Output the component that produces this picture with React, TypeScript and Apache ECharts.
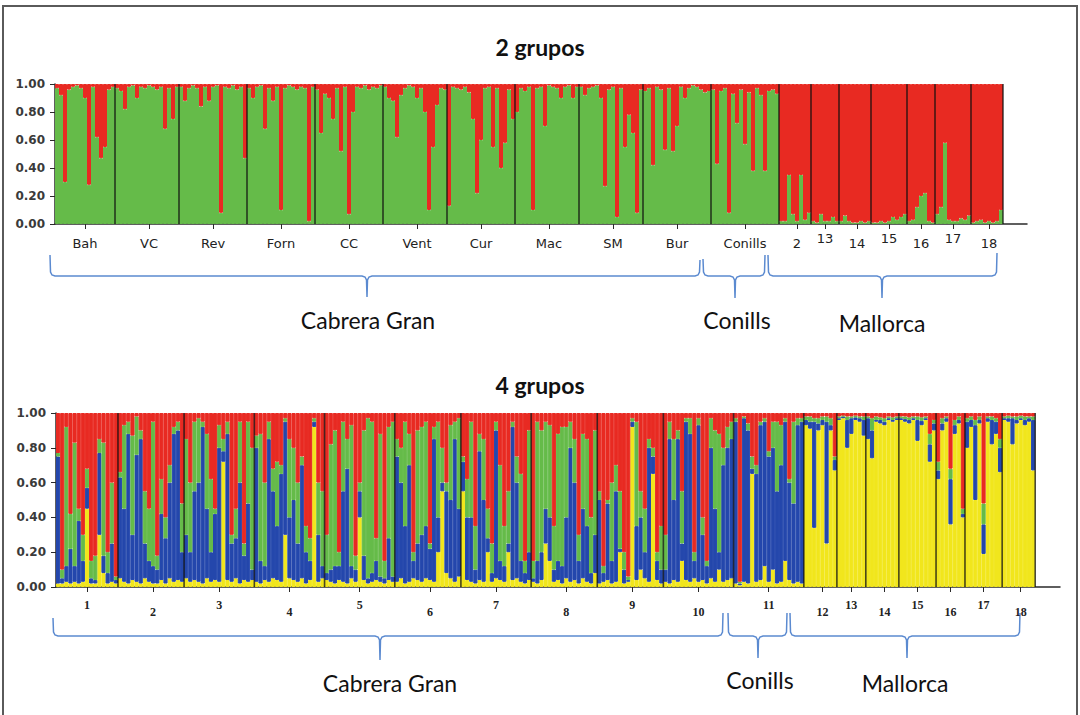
import React, { useEffect, useRef } from "react";
import * as echarts from "echarts";

// ---------- population labels ----------
const k2PopNames = ["Bah", "VC", "Rev", "Forn", "CC", "Vent", "Cur", "Mac", "SM", "Bur", "Conills", "2", "13", "14", "15", "16", "17", "18"];
const k2RaisedLabels = ["13", "15", "17"];
const k4PopNames = ["1", "2", "3", "4", "5", "6", "7", "8", "9", "10", "11", "12", "13", "14", "15", "16", "17", "18"];
const yTickValues = [0, 0.2, 0.4, 0.6, 0.8, 1.0];

// ---------- K = 2 : green membership of each individual (red = rest) ----------
const k2Bah = [0.97, 0.92, 0.30, 0.96, 0.98, 0.99, 0.97, 0.90, 0.28, 0.98, 0.62, 0.47, 0.55, 0.96, 0.98];
const k2VC = [0.97, 0.95, 0.82, 0.98, 0.99, 0.90, 0.98, 0.97, 0.99, 0.98, 0.96, 0.98, 0.68, 0.97, 0.75, 0.98];
const k2Rev = [0.98, 0.88, 0.97, 0.99, 0.97, 0.84, 0.98, 0.88, 0.98, 0.99, 0.08, 0.98, 0.97, 0.99, 0.96, 0.98, 0.47];
const k2Forn = [0.97, 0.90, 0.98, 0.99, 0.68, 0.97, 0.88, 0.98, 0.10, 0.97, 0.99, 0.98, 0.96, 0.98, 0.97, 0.02, 0.98];
const k2CC = [0.96, 0.65, 0.93, 0.90, 0.75, 0.97, 0.52, 0.98, 0.07, 0.80, 0.98, 0.97, 0.99, 0.96, 0.98, 0.97, 0.99];
const k2Vent = [0.98, 0.90, 0.88, 0.62, 0.92, 0.97, 0.99, 0.98, 0.90, 0.97, 0.80, 0.10, 0.55, 0.85, 0.97, 0.96];
const k2Cur = [0.13, 0.98, 0.97, 0.96, 0.98, 0.94, 0.75, 0.22, 0.60, 0.97, 0.98, 0.55, 0.97, 0.40, 0.58, 0.96, 0.75];
const k2Mac = [0.80, 0.97, 0.95, 0.98, 0.10, 0.97, 0.98, 0.70, 0.99, 0.98, 0.97, 0.90, 0.98, 0.99, 0.90, 0.98];
const k2SM = [0.98, 0.92, 0.97, 0.98, 0.99, 0.90, 0.27, 0.96, 0.98, 0.05, 0.97, 0.55, 0.78, 0.65, 0.08, 0.96];
const k2Bur = [0.95, 0.97, 0.42, 0.98, 0.96, 0.53, 0.97, 0.52, 0.70, 0.98, 0.90, 0.97, 0.99, 0.98, 0.96, 0.94, 0.95];
const k2Conills = [0.96, 0.43, 0.95, 0.97, 0.08, 0.93, 0.72, 0.96, 0.57, 0.94, 0.38, 0.97, 0.92, 0.38, 0.95, 0.96, 0.93];
const k2M12 = [0.02, 0.02, 0.35, 0.07, 0.02, 0.35, 0.03, 0.08];
const k2M13 = [0.02, 0.01, 0.07, 0.02, 0.02, 0.05, 0.02];
const k2M14 = [0.02, 0.06, 0.02, 0.01, 0.01, 0.02, 0.01, 0.02];
const k2M15 = [0.01, 0.01, 0.02, 0.01, 0.02, 0.05, 0.03, 0.05, 0.07];
const k2M16 = [0.02, 0.03, 0.12, 0.20, 0.22, 0.02, 0.01];
const k2M17 = [0.07, 0.12, 0.58, 0.03, 0.02, 0.02, 0.04, 0.03, 0.06];
const k2M18 = [0.01, 0.02, 0.03, 0.01, 0.02, 0.01, 0.02, 0.10];
const k2Groups = [k2Bah, k2VC, k2Rev, k2Forn, k2CC, k2Vent, k2Cur, k2Mac, k2SM, k2Bur, k2Conills, k2M12, k2M13, k2M14, k2M15, k2M16, k2M17, k2M18];

// ---------- K = 4 : cumulative tops [yellow, blue, green] (red = rest up to 1) ----------
const k4P1 = [[0.02, 0.75, 0.77], [0.02, 0.05, 0.10], [0.03, 0.12, 0.92], [0.02, 0.22, 0.42], [0.03, 0.12, 0.83], [0.02, 0.38, 0.45], [0.03, 0.15, 0.30], [0.45, 0.57, 0.68], [0.02, 0.05, 0.15], [0.02, 0.04, 0.18], [0.30, 0.77, 0.85], [0.08, 0.18, 0.83], [0.02, 0.08, 0.20], [0.03, 0.25, 0.60], [0.02, 0.04, 0.06]];
const k4P2 = [[0.05, 0.63, 0.66], [0.03, 0.45, 0.93], [0.02, 0.88, 0.95], [0.04, 0.30, 0.87], [0.03, 0.76, 0.98], [0.02, 0.85, 0.90], [0.05, 0.25, 0.55], [0.03, 0.15, 0.45], [0.02, 0.12, 0.95], [0.02, 0.10, 0.18], [0.04, 0.42, 0.62], [0.02, 0.28, 0.40], [0.05, 0.60, 0.70], [0.03, 0.88, 0.92], [0.04, 0.90, 0.95], [0.03, 0.20, 0.48]];
const k4P3 = [[0.05, 0.30, 0.85], [0.03, 0.20, 0.60], [0.04, 0.55, 0.95], [0.03, 0.60, 0.97], [0.02, 0.92, 0.95], [0.05, 0.45, 0.88], [0.03, 0.20, 0.62], [0.04, 0.42, 0.45], [0.03, 0.80, 0.93], [0.72, 0.78, 0.85], [0.04, 0.88, 0.95], [0.03, 0.25, 0.30], [0.05, 0.28, 0.45], [0.02, 0.60, 0.95], [0.04, 0.18, 0.25], [0.03, 0.48, 0.95], [0.04, 0.10, 0.80]];
const k4P4 = [[0.03, 0.80, 0.87], [0.02, 0.15, 0.88], [0.04, 0.12, 0.60], [0.03, 0.85, 0.95], [0.05, 0.55, 0.68], [0.04, 0.35, 0.72], [0.03, 0.65, 0.70], [0.30, 0.95, 0.97], [0.05, 0.40, 0.85], [0.04, 0.50, 0.80], [0.03, 0.25, 0.60], [0.05, 0.70, 0.75], [0.02, 0.20, 0.35], [0.04, 0.15, 0.28], [0.92, 0.95, 0.97], [0.03, 0.30, 0.60], [0.05, 0.12, 0.55]];
const k4P5 = [[0.04, 0.08, 0.30], [0.03, 0.10, 0.82], [0.02, 0.12, 0.90], [0.04, 0.12, 0.20], [0.03, 0.55, 0.95], [0.02, 0.68, 0.85], [0.05, 0.12, 0.93], [0.03, 0.10, 0.18], [0.40, 0.55, 0.60], [0.04, 0.18, 0.90], [0.02, 0.05, 0.97], [0.03, 0.08, 0.95], [0.04, 0.15, 0.28], [0.03, 0.06, 0.88], [0.02, 0.05, 0.15], [0.04, 0.28, 0.92], [0.03, 0.06, 0.95]];
const k4P6 = [[0.03, 0.75, 0.85], [0.05, 0.60, 0.80], [0.02, 0.35, 0.95], [0.03, 0.70, 0.88], [0.05, 0.15, 0.20], [0.04, 0.25, 0.90], [0.03, 0.30, 0.92], [0.05, 0.35, 0.95], [0.04, 0.22, 0.25], [0.03, 0.85, 0.92], [0.20, 0.40, 0.95], [0.55, 0.60, 0.80], [0.08, 0.55, 0.60], [0.05, 0.50, 0.93], [0.03, 0.85, 0.95], [0.06, 0.45, 0.97]];
const k4P7 = [[0.55, 0.72, 0.75], [0.04, 0.40, 0.62], [0.03, 0.40, 0.95], [0.02, 0.10, 0.35], [0.04, 0.78, 0.88], [0.03, 0.50, 0.85], [0.20, 0.28, 0.45], [0.03, 0.08, 0.25], [0.05, 0.90, 0.95], [0.04, 0.15, 0.70], [0.03, 0.12, 0.35], [0.20, 0.25, 0.55], [0.04, 0.92, 0.95], [0.05, 0.60, 0.75], [0.03, 0.15, 0.65], [0.02, 0.08, 0.15], [0.04, 0.20, 0.90]];
const k4P8 = [[0.03, 0.05, 0.15], [0.02, 0.15, 0.95], [0.04, 0.20, 0.90], [0.25, 0.45, 0.95], [0.15, 0.40, 0.93], [0.03, 0.10, 0.35], [0.04, 0.15, 0.88], [0.02, 0.12, 0.92], [0.05, 0.40, 0.92], [0.03, 0.80, 0.95], [0.04, 0.60, 0.85], [0.02, 0.15, 0.30], [0.05, 0.45, 0.88], [0.03, 0.35, 0.85], [0.02, 0.08, 0.40], [0.08, 0.30, 0.90]];
const k4P9 = [[0.02, 0.50, 0.55], [0.03, 0.08, 0.12], [0.04, 0.48, 0.50], [0.02, 0.15, 0.60], [0.03, 0.55, 0.70], [0.20, 0.22, 0.55], [0.02, 0.10, 0.20], [0.03, 0.04, 0.06], [0.92, 0.95, 0.97], [0.04, 0.35, 0.95], [0.10, 0.40, 0.55], [0.05, 0.20, 0.45], [0.03, 0.80, 0.85], [0.65, 0.75, 0.80], [0.04, 0.15, 0.20], [0.02, 0.10, 0.35]];
const k4P10 = [[0.03, 0.10, 0.30], [0.02, 0.85, 0.95], [0.04, 0.50, 0.85], [0.03, 0.85, 0.90], [0.15, 0.25, 0.55], [0.04, 0.95, 0.97], [0.03, 0.88, 0.97], [0.05, 0.15, 0.20], [0.03, 0.93, 0.97], [0.04, 0.30, 0.40], [0.02, 0.12, 0.15], [0.05, 0.80, 0.97], [0.03, 0.45, 0.90], [0.10, 0.20, 0.88], [0.03, 0.70, 0.80], [0.04, 0.80, 0.92], [0.05, 0.85, 0.95]];
const k4P11 = [[0.02, 0.95, 0.97], [0.01, 0.02, 0.03], [0.03, 0.97, 0.98], [0.02, 0.90, 0.94], [0.65, 0.68, 0.75], [0.03, 0.65, 0.70], [0.04, 0.93, 0.95], [0.12, 0.95, 0.97], [0.03, 0.75, 0.78], [0.10, 0.80, 0.95], [0.02, 0.55, 0.95], [0.03, 0.70, 0.93], [0.15, 0.95, 0.97], [0.04, 0.60, 0.62], [0.02, 0.48, 0.95], [0.03, 0.93, 0.97], [0.02, 0.95, 0.97]];
const k4P12 = [[0.93, 0.96, 0.98], [0.91, 0.95, 0.98], [0.34, 0.95, 0.97], [0.90, 0.94, 0.97], [0.93, 0.96, 0.98], [0.25, 0.95, 0.98], [0.90, 0.93, 0.97], [0.67, 0.73, 0.75]];
const k4P13 = [[0.96, 0.97, 0.98], [0.97, 0.98, 0.985], [0.80, 0.96, 0.98], [0.88, 0.97, 0.98], [0.96, 0.975, 0.985], [0.95, 0.97, 0.98], [0.87, 0.96, 0.98]];
const k4P14 = [[0.85, 0.97, 0.98], [0.74, 0.90, 0.97], [0.95, 0.96, 0.98], [0.94, 0.96, 0.975], [0.93, 0.95, 0.97], [0.96, 0.97, 0.98], [0.95, 0.96, 0.975], [0.96, 0.97, 0.98]];
const k4P15 = [[0.96, 0.97, 0.98], [0.95, 0.965, 0.98], [0.94, 0.96, 0.975], [0.96, 0.97, 0.98], [0.84, 0.96, 0.98], [0.93, 0.955, 0.975], [0.96, 0.97, 0.98], [0.72, 0.82, 0.88], [0.90, 0.94, 0.96]];
const k4P16 = [[0.62, 0.67, 0.72], [0.90, 0.94, 0.97], [0.95, 0.97, 0.98], [0.36, 0.62, 0.68], [0.88, 0.93, 0.96], [0.94, 0.96, 0.98], [0.40, 0.42, 0.45]];
const k4P17 = [[0.80, 0.95, 0.97], [0.92, 0.96, 0.98], [0.50, 0.93, 0.96], [0.94, 0.96, 0.98], [0.19, 0.36, 0.48], [0.95, 0.97, 0.98], [0.82, 0.96, 0.98], [0.88, 0.95, 0.97], [0.66, 0.80, 0.85]];
const k4P18 = [[0.96, 0.97, 0.98], [0.95, 0.97, 0.985], [0.82, 0.97, 0.98], [0.94, 0.96, 0.98], [0.96, 0.97, 0.985], [0.93, 0.96, 0.98], [0.95, 0.97, 0.98], [0.67, 0.96, 0.98]];
const k4Groups = [k4P1, k4P2, k4P3, k4P4, k4P5, k4P6, k4P7, k4P8, k4P9, k4P10, k4P11, k4P12, k4P13, k4P14, k4P15, k4P16, k4P17, k4P18];

const PAD = 6; // empty categories after the last population (axis overhang)

const RED = "#e82a22";
const GREEN = "#65bb49";
const BLUE = "#2447ac";
const YELLOW = "#f1e61c";
const BRACE = "#5b8ad0";

function layout(groups: any[][], prefix: string) {
  const cats: string[] = [];
  const centers: number[] = [];
  const bounds: number[] = [];
  groups.forEach((g, p) => {
    if (p > 0) bounds.push(cats.length);
    centers.push(cats.length + Math.floor(g.length / 2));
    g.forEach((_, i) => cats.push(`${prefix}${p}_${i}`));
  });
  bounds.push(cats.length);
  for (let j = 0; j < PAD; j++) cats.push(`${prefix}pad${j}`);
  return { cats, centers, bounds };
}

function bracePoints(xl: number, xr: number, xm: number, yl: number, yr: number, yLine: number, yTip: number) {
  return [
    [xl, yl], [xl + 0.5, yLine - 4], [xl + 2, yLine - 1], [xl + 5, yLine],
    [xm - 5, yLine], [xm - 2, yLine + 1], [xm - 0.5, yLine + 4], [xm, yTip],
    [xm + 0.5, yLine + 4], [xm + 2, yLine + 1], [xm + 5, yLine],
    [xr - 5, yLine], [xr - 2, yLine - 1], [xr - 0.5, yLine - 4], [xr, yr],
  ];
}

export default function App() {
  const ref = useRef<HTMLDivElement>(null);

  useEffect(() => {
    if (!ref.current) return;
    const chart = echarts.init(ref.current, null, { renderer: "svg" });

    const L2 = layout(k2Groups, "a");
    const L4 = layout(k4Groups, "b");
    const pad = new Array(PAD).fill(null);

    const k2GreenData = ([] as (number | null)[]).concat(...k2Groups, pad);
    const k2RedData = ([] as (number | null)[]).concat(...k2Groups.map((g) => g.map((v) => +(1 - v).toFixed(3))), pad);

    const flat4 = ([] as number[][]).concat(...k4Groups);
    const k4Yellow = flat4.map((t) => t[0]).concat(pad);
    const k4Blue = flat4.map((t) => +(t[1] - t[0]).toFixed(3)).concat(pad);
    const k4Green = flat4.map((t) => +(t[2] - t[1]).toFixed(3)).concat(pad);
    const k4Red = flat4.map((t) => +(1 - t[2]).toFixed(3)).concat(pad);

    const label2: Record<string, string> = {};
    L2.centers.forEach((c, p) => {
      const name = k2PopNames[p];
      label2[L2.cats[c]] = k2RaisedLabels.includes(name) ? `{hi|${name}}` : `{lo|${name}}`;
    });
    const label4: Record<string, string> = {};
    L4.centers.forEach((c, p) => {
      const name = k4PopNames[p];
      label4[L4.cats[c]] = p % 2 === 0 ? `{hi|${name}}` : `{lo|${name}}`;
    });
    const c2 = new Set(L2.centers);
    const c4 = new Set(L4.centers);

    const axisColor = "#2a2a2a";

    const yAxisBase = (gridIndex: number) => ({
      type: "value",
      gridIndex,
      min: 0,
      max: 1,
      interval: 0.2,
      splitLine: { show: false },
      axisLine: { show: true, lineStyle: { color: axisColor, width: 1.5 } },
      axisTick: { show: true, length: 5, lineStyle: { color: axisColor } },
      axisLabel: {
        margin: 10,
        fontFamily: "DejaVu Sans",
        fontWeight: "bold",
        fontSize: 12,
        color: "#3a3a3a",
        formatter: (v: number) => (yTickValues.some((t) => Math.abs(t - v) < 1e-6) ? v.toFixed(2) : ""),
      },
    });

    const barBase = (name: string, stack: string, axis: number, color: string, data: any[]) => ({
      type: "bar",
      name,
      stack,
      xAxisIndex: axis,
      yAxisIndex: axis,
      data,
      barCategoryGap: "0%",
      barGap: "0%",
      itemStyle: { color, borderColor: color, borderWidth: 1 },
      silent: true,
    });

    const separator = (axis: number, bounds: number[]) => ({
      type: "custom",
      xAxisIndex: axis,
      yAxisIndex: axis,
      data: bounds.map((b) => [b, 0]),
      encode: { x: 0, y: 1 },
      silent: true,
      z: 5,
      renderItem: (_params: any, api: any) => {
        const idx = api.value(0);
        const p0 = api.coord([idx, 0]);
        const p1 = api.coord([idx, 1]);
        const w = api.size([1, 0])[0];
        const x = p0[0] - w / 2;
        return {
          type: "line",
          shape: { x1: x, y1: p0[1], x2: x, y2: p1[1] },
          style: { stroke: "rgba(15,15,15,0.75)", lineWidth: 1.6 },
        };
      },
    });

    const textEl = (text: string, x: number, y: number) => ({
      type: "text",
      x,
      y,
      style: {
        text,
        fill: "#111",
        fontFamily: "Lato",
        fontSize: 23,
        align: "center",
        verticalAlign: "middle",
        textAlign: "center",
        textVerticalAlign: "middle",
      },
    });

    const braceEl = (pts: number[][]) => ({
      type: "polyline",
      shape: { points: pts },
      style: { stroke: BRACE, lineWidth: 1.5, fill: "none" },
    });

    chart.setOption({
      animation: false,
      backgroundColor: "#ffffff",
      title: [
        { text: "2 grupos", left: "center", top: 30, textStyle: { fontFamily: "Lato", fontWeight: "bold", fontSize: 23, color: "#111" } },
        { text: "4 grupos", left: "center", top: 368, textStyle: { fontFamily: "Lato", fontWeight: "bold", fontSize: 23, color: "#111" } },
      ],
      grid: [
        { left: 55, right: 53, top: 84, height: 140 },
        { left: 56, right: 20, top: 413, height: 174 },
      ],
      xAxis: [
        {
          type: "category",
          gridIndex: 0,
          data: L2.cats,
          boundaryGap: true,
          axisLine: { show: true, lineStyle: { color: axisColor, width: 1.5 } },
          axisTick: { show: true, alignWithLabel: true, length: 5, interval: (i: number) => c2.has(i), lineStyle: { color: axisColor } },
          axisLabel: {
            show: true,
            interval: (i: number) => c2.has(i),
            margin: 8,
            formatter: (v: string) => label2[v] || "",
            rich: {
              hi: { fontFamily: "DejaVu Sans", fontSize: 13, color: "#222" },
              lo: { fontFamily: "DejaVu Sans", fontSize: 13, color: "#222", padding: [5, 0, 0, 0] },
            },
          },
          splitLine: { show: false },
        },
        {
          type: "category",
          gridIndex: 1,
          data: L4.cats,
          boundaryGap: true,
          axisLine: { show: true, lineStyle: { color: axisColor, width: 1.5 } },
          axisTick: { show: true, alignWithLabel: true, length: 5, interval: (i: number) => c4.has(i), lineStyle: { color: axisColor } },
          axisLabel: {
            show: true,
            interval: (i: number) => c4.has(i),
            margin: 12,
            formatter: (v: string) => label4[v] || "",
            rich: {
              hi: { fontFamily: "Liberation Serif", fontWeight: "bold", fontSize: 12, color: "#222" },
              lo: { fontFamily: "Liberation Serif", fontWeight: "bold", fontSize: 12, color: "#222", padding: [7, 0, 0, 0] },
            },
          },
          splitLine: { show: false },
        },
      ],
      yAxis: [yAxisBase(0), yAxisBase(1)],
      series: [
        barBase("K2 verde", "k2", 0, GREEN, k2GreenData),
        barBase("K2 rojo", "k2", 0, RED, k2RedData),
        separator(0, L2.bounds),
        barBase("K4 amarillo", "k4", 1, YELLOW, k4Yellow),
        barBase("K4 azul", "k4", 1, BLUE, k4Blue),
        barBase("K4 verde", "k4", 1, GREEN, k4Green),
        barBase("K4 rojo", "k4", 1, RED, k4Red),
        separator(1, L4.bounds),
      ],
      graphic: [
        { type: "rect", shape: { x: 3, y: 6, width: 1074, height: 730 }, style: { stroke: "#5a5a5a", lineWidth: 2, fill: "none" }, silent: true },
        braceEl(bracePoints(50, 700, 367, 255, 260, 276, 297)),
        braceEl(bracePoints(703, 765, 735, 259, 255, 276, 298)),
        braceEl(bracePoints(768, 997, 882, 255, 253, 276, 298)),
        braceEl(bracePoints(53, 723, 380, 618, 613, 636, 660)),
        braceEl(bracePoints(728, 787, 758, 613, 613, 636, 658)),
        braceEl(bracePoints(790, 1020, 907, 613, 613, 636, 658)),
        textEl("Cabrera Gran", 368, 320),
        textEl("Conills", 737, 320),
        textEl("Mallorca", 882, 323),
        textEl("Cabrera Gran", 390, 683),
        textEl("Conills", 760, 680),
        textEl("Mallorca", 905, 683),
      ],
    });

    return () => chart.dispose();
  }, []);

  return (
    <div
      ref={ref}
      style={{ position: "absolute", left: 0, top: 0, width: 1080, height: 715, background: "#fff" }}
    />
  );
}
